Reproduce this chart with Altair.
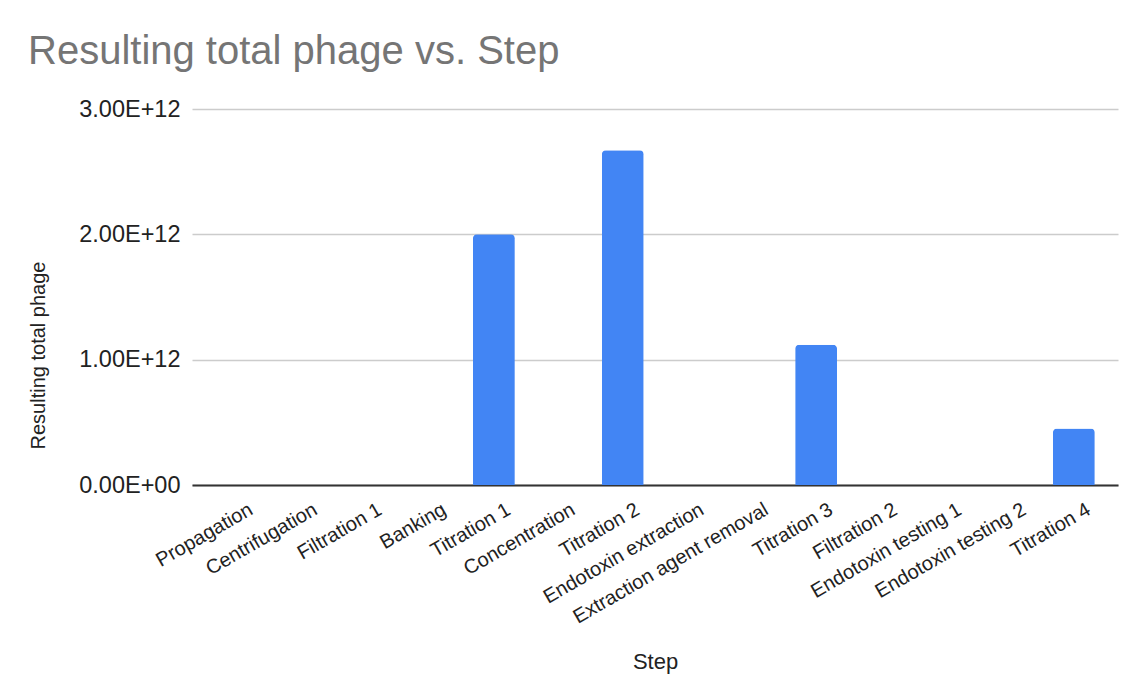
import altair as alt
import pandas as pd

steps = [
    "Propagation", "Centrifugation", "Filtration 1", "Banking", "Titration 1",
    "Concentration", "Titration 2", "Endotoxin extraction", "Extraction agent removal",
    "Titration 3", "Filtration 2", "Endotoxin testing 1", "Endotoxin testing 2", "Titration 4",
]
phage = [None, None, None, None, 2.0e12, None, 2.67e12, None, None, 1.12e12,
         None, None, None, 4.5e11]
y_ticks = [0, 1e12, 2e12, 3e12]

df = pd.DataFrame({"Step": steps, "Resulting total phage": phage})

FONT = "Liberation Sans"

bars = alt.Chart(df).mark_bar(
    color="#4285F4", cornerRadiusTopLeft=4, cornerRadiusTopRight=4
).encode(
    x=alt.X(
        "Step:N",
        sort=steps,
        scale=alt.Scale(domain=steps, paddingInner=0.35, paddingOuter=0.36),
        axis=alt.Axis(
            title="Step",
            labelAngle=-30,
            labelAlign="right",
            labelBaseline="top",
            labelPadding=14,
            labelOffset=10,
            labelFontSize=20,
            labelColor="#222222",
            labelFont=FONT,
            labelOverlap=False,
            labelLimit=600,
            ticks=False,
            domainColor="#333333",
            domainWidth=2,
            titleFont=FONT,
            titleFontSize=22,
            titleFontWeight="normal",
            titleColor="#222222",
            titleBaseline="alphabetic",
            titleY=183,
        ),
    ),
    y=alt.Y(
        "Resulting total phage:Q",
        scale=alt.Scale(domain=[0, 3e12], nice=False),
        axis=alt.Axis(
            title="Resulting total phage",
            values=y_ticks,
            labelExpr="datum.value == 0 ? '0.00E+00' : replace(format(datum.value, '.2e'), 'e', 'E')",
            labelFont=FONT,
            labelFontSize=23.5,
            labelColor="#222222",
            labelPadding=12,
            ticks=False,
            domain=False,
            gridColor="#cccccc",
            gridWidth=1.5,
            titleFont=FONT,
            titleFontSize=20,
            titleFontWeight="normal",
            titleColor="#222222",
            titleAngle=270,
            titleAlign="center",
            titleBaseline="middle",
            titleX=-154,
            titleY=246,
        ),
    ),
).properties(
    width=926,
    height=376,
    title=alt.TitleParams(
        "Resulting total phage vs. Step",
        anchor="start",
        frame="group",
        font=FONT,
        fontSize=40,
        fontWeight="normal",
        color="#757575",
        baseline="alphabetic",
        offset=0,
        dx=-164,
        dy=7,
    ),
    autosize=alt.AutoSizeParams(type="none"),
    padding={"left": 184, "top": 101, "right": 6, "bottom": 190},
).configure_view(stroke=None)

bars.save("out.html", embed_options={"renderer": "svg", "actions": False})
